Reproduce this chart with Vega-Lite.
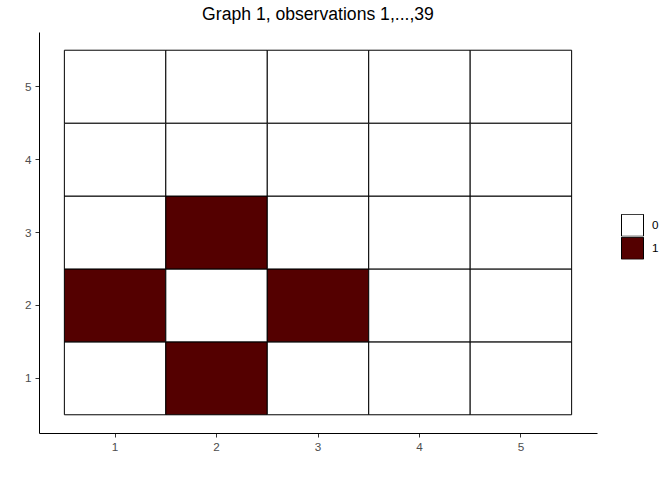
{
  "$schema": "https://vega.github.io/schema/vega-lite/v6.json",
  "width": 558,
  "height": 401,
  "autosize": {"type": "none"},
  "padding": {"left": 39, "top": 32, "right": 75, "bottom": 47},
  "background": "white",
  "title": {
    "text": "Graph 1, observations 1,...,39",
    "font": "Liberation Sans",
    "fontSize": 17.6,
    "fontWeight": "normal",
    "color": "black",
    "anchor": "middle",
    "baseline": "alphabetic",
    "offset": -6
  },
  "data": {
    "values": [
      {"col": 1, "row": 1, "v": "0"}, {"col": 2, "row": 1, "v": "1"}, {"col": 3, "row": 1, "v": "0"}, {"col": 4, "row": 1, "v": "0"}, {"col": 5, "row": 1, "v": "0"},
      {"col": 1, "row": 2, "v": "1"}, {"col": 2, "row": 2, "v": "0"}, {"col": 3, "row": 2, "v": "1"}, {"col": 4, "row": 2, "v": "0"}, {"col": 5, "row": 2, "v": "0"},
      {"col": 1, "row": 3, "v": "0"}, {"col": 2, "row": 3, "v": "1"}, {"col": 3, "row": 3, "v": "0"}, {"col": 4, "row": 3, "v": "0"}, {"col": 5, "row": 3, "v": "0"},
      {"col": 1, "row": 4, "v": "0"}, {"col": 2, "row": 4, "v": "0"}, {"col": 3, "row": 4, "v": "0"}, {"col": 4, "row": 4, "v": "0"}, {"col": 5, "row": 4, "v": "0"},
      {"col": 1, "row": 5, "v": "0"}, {"col": 2, "row": 5, "v": "0"}, {"col": 3, "row": 5, "v": "0"}, {"col": 4, "row": 5, "v": "0"}, {"col": 5, "row": 5, "v": "0"}
    ]
  },
  "mark": {"type": "rect", "stroke": "black", "strokeWidth": 1},
  "encoding": {
    "x": {
      "field": "col", "type": "ordinal",
      "scale": {"paddingInner": 0, "paddingOuter": 0.25},
      "axis": {
        "title": null, "labelAngle": 0, "grid": false,
        "domainColor": "black", "domainWidth": 1,
        "tickColor": "#333333", "tickSize": 4,
        "labelColor": "#4d4d4d", "labelFont": "Liberation Sans", "labelFontSize": 11.7, "labelPadding": 4
      }
    },
    "y": {
      "field": "row", "type": "ordinal", "sort": "descending",
      "scale": {"paddingInner": 0, "paddingOuter": 0.25},
      "axis": {
        "title": null, "grid": false,
        "domainColor": "black", "domainWidth": 1,
        "tickColor": "#333333", "tickSize": 4,
        "labelColor": "#4d4d4d", "labelFont": "Liberation Sans", "labelFontSize": 11.7, "labelPadding": 4
      }
    },
    "color": {
      "field": "v", "type": "nominal",
      "scale": {"domain": ["0", "1"], "range": ["white", "#540000"]},
      "legend": {
        "title": null,
        "orient": "none",
        "legendX": 582,
        "legendY": 182,
        "symbolType": "square",
        "symbolSize": 484,
        "symbolStrokeColor": "black",
        "symbolStrokeWidth": 1,
        "rowPadding": 0,
        "clipHeight": 22.5,
        "labelFont": "Liberation Sans",
        "labelFontSize": 11.7,
        "labelColor": "black",
        "labelOffset": 8
      }
    }
  },
  "config": {"view": {"stroke": null}}
}
